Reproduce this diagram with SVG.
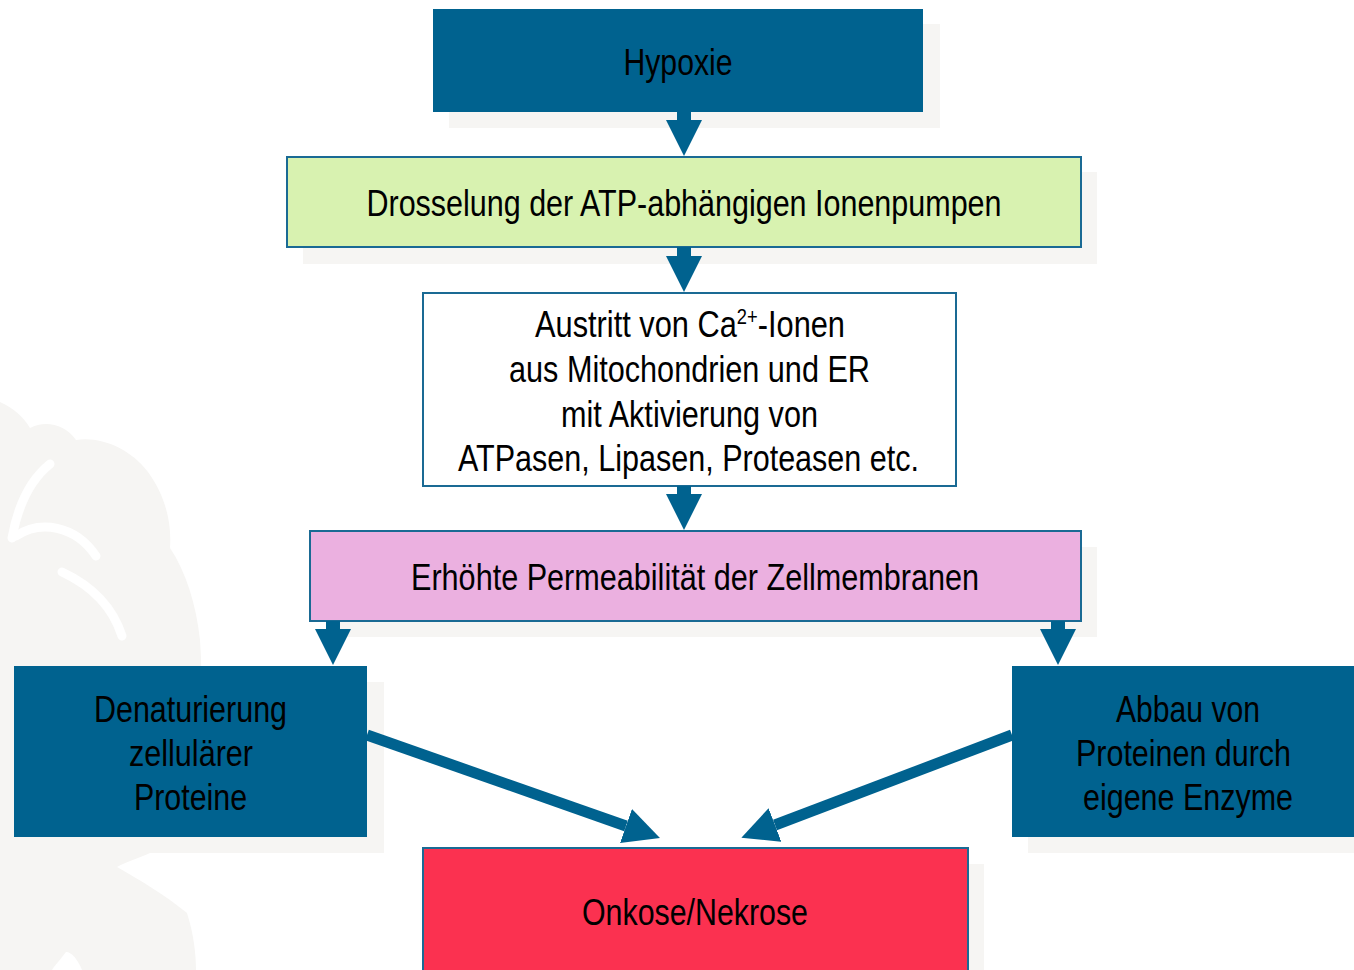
<svg xmlns="http://www.w3.org/2000/svg" width="1354" height="970" viewBox="0 0 1354 970">
<style>
text{font-family:"Liberation Sans",Arial,sans-serif;font-size:37px;fill:#000;text-anchor:middle}
.shadow{fill:#f6f5f3}
.blue{fill:#00628f}
.bordered{stroke:#1a6a94;stroke-width:2}
.conn{stroke:#00628f;fill:none}
.wm{fill:#f6f5f3}
.petal{stroke:#fff;fill:none;stroke-linecap:round}
</style>
<defs>
<marker id="head" viewBox="0 0 36 36" refX="0" refY="18" markerWidth="36" markerHeight="36" markerUnits="userSpaceOnUse" orient="auto">
<path d="M0,0 L36,18 L0,36 z" fill="#00628f"/>
</marker>
</defs>
<rect width="1354" height="970" fill="#fff"/>
<g id="watermark">
<path class="wm" d="M0,402 C14,408 24,418 30,428 C45,420 65,424 76,440 C100,436 130,448 148,472 C164,494 172,520 170,548 C186,572 196,604 200,640 C204,690 198,740 192,790 C190,815 186,835 180,850 L150,853 C140,858 125,862 117,867 C140,880 165,895 187,913 C194,935 196,955 196,970 L82,970 C78,960 72,952 66,952 C60,960 55,965 52,970 L0,970 Z"/>
<path class="petal" stroke-width="9" d="M12,538 C18,505 30,480 50,464"/>
<path class="petal" stroke-width="9" d="M16,536 C40,520 75,525 96,556"/>
<path class="petal" stroke-width="9" d="M62,572 C90,585 112,605 122,636"/>
</g>
<g id="n1">
<rect class="shadow" x="449" y="24" width="491" height="104"/>
<rect class="blue" x="433" y="9" width="490" height="103"/>
<text x="678" y="75" textLength="109" lengthAdjust="spacingAndGlyphs">Hypoxie</text>
</g>
<g id="n2">
<rect class="shadow" x="303" y="172" width="794" height="92"/>
<rect class="bordered" x="287" y="157" width="794" height="90" fill="#d8f2b0"/>
<text x="684" y="216" textLength="635" lengthAdjust="spacingAndGlyphs">Drosselung der ATP-abhängigen Ionenpumpen</text>
</g>
<g id="n3">
<rect class="bordered" x="423" y="293" width="533" height="193" fill="#fff"/>
<text x="690" y="337" textLength="310" lengthAdjust="spacingAndGlyphs">Austritt von Ca<tspan font-size="22" dy="-13">2+</tspan><tspan dy="13">-Ionen</tspan></text>
<text x="689.5" y="382" textLength="361" lengthAdjust="spacingAndGlyphs">aus Mitochondrien und ER</text>
<text x="689.5" y="427" textLength="257" lengthAdjust="spacingAndGlyphs">mit Aktivierung von</text>
<text x="688.5" y="471" textLength="461" lengthAdjust="spacingAndGlyphs">ATPasen, Lipasen, Proteasen etc.</text>
</g>
<g id="n4">
<rect class="shadow" x="326" y="547" width="771" height="90"/>
<rect class="bordered" x="310" y="531" width="771" height="90" fill="#ebb0e0"/>
<text x="695" y="590" textLength="568" lengthAdjust="spacingAndGlyphs">Erhöhte Permeabilität der Zellmembranen</text>
</g>
<g id="n5">
<rect class="shadow" x="30" y="682" width="354" height="171"/>
<rect class="blue" x="14" y="666" width="353" height="171"/>
<text x="190.5" y="722" textLength="193" lengthAdjust="spacingAndGlyphs">Denaturierung</text>
<text x="191" y="766" textLength="124" lengthAdjust="spacingAndGlyphs">zellulärer</text>
<text x="190.5" y="810" textLength="113" lengthAdjust="spacingAndGlyphs">Proteine</text>
</g>
<g id="n6">
<rect class="shadow" x="1028" y="682" width="326" height="171"/>
<rect class="blue" x="1012" y="666" width="342" height="171"/>
<text x="1188" y="722" textLength="144" lengthAdjust="spacingAndGlyphs">Abbau von</text>
<text x="1183.5" y="766" textLength="215" lengthAdjust="spacingAndGlyphs">Proteinen durch</text>
<text x="1188" y="810" textLength="210" lengthAdjust="spacingAndGlyphs">eigene Enzyme</text>
</g>
<g id="n7">
<rect class="shadow" x="439" y="864" width="545" height="106"/>
<rect class="bordered" x="423" y="848" width="545" height="130" fill="#fb3150"/>
<text x="695" y="925" textLength="226" lengthAdjust="spacingAndGlyphs">Onkose/Nekrose</text>
</g>
<g id="connectors">
<line class="conn" x1="684" y1="112" x2="684" y2="120" stroke-width="14" marker-end="url(#head)"/>
<line class="conn" x1="684" y1="247" x2="684" y2="256" stroke-width="14" marker-end="url(#head)"/>
<line class="conn" x1="684" y1="486" x2="684" y2="494" stroke-width="14" marker-end="url(#head)"/>
<line class="conn" x1="333" y1="621" x2="333" y2="629" stroke-width="14" marker-end="url(#head)"/>
<line class="conn" x1="1058" y1="621" x2="1058" y2="629" stroke-width="14" marker-end="url(#head)"/>
<line class="conn" x1="367" y1="735" x2="626" y2="826" stroke-width="11" marker-end="url(#head)"/>
<line class="conn" x1="1012" y1="735" x2="775" y2="825" stroke-width="11" marker-end="url(#head)"/>
</g>
</svg>
